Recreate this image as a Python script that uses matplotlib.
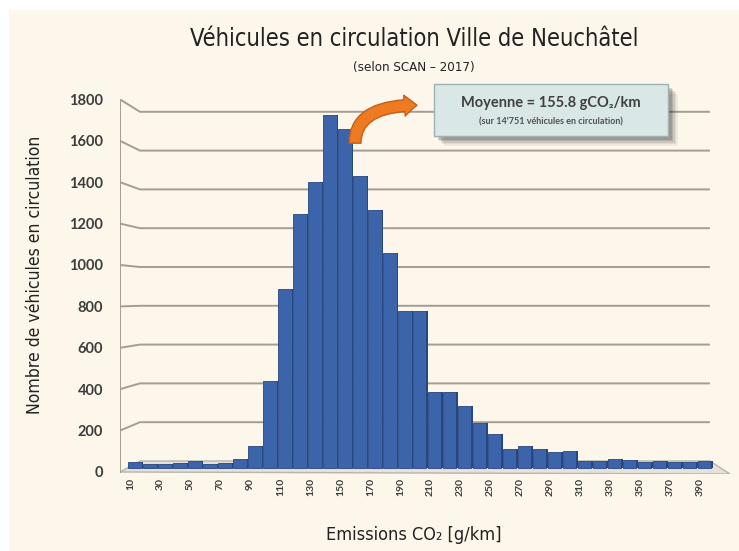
import numpy as np
import matplotlib.pyplot as plt
from matplotlib.patches import Rectangle, Polygon, FancyArrowPatch, ArrowStyle

# emission classes (g/km) and number of vehicles in each
classes = list(range(10, 400, 10))
vehicles = [30, 20, 20, 25, 35, 20, 25, 45, 110,
            430, 880, 1250, 1410, 1740, 1670, 1440, 1270, 1060, 775, 775,
            375, 375, 305, 220, 165, 95, 110, 95, 80, 85,
            35, 35, 45, 40, 30, 35, 30, 30, 35]
tick_classes = list(range(10, 400, 20))
y_ticks = list(range(0, 2000, 200))

title = "Véhicules en circulation Ville de Neuchâtel"
subtitle = "(selon SCAN – 2017)"
xlabel = "Emissions CO₂ [g/km]"
ylabel = "Nombre de véhicules en circulation"
box_line1 = "Moyenne = 155.8 gCO₂/km"
box_line2 = "(sur 14'751 véhicules en circulation)"

cream = "#fdf6ea"
blue = "#3c64aa"
blue_dark = "#27467e"
grid_col = "#a39d92"
txt_col = "#3d3d3d"
cond = ["DejaVu Sans"]
bold = ["Lato", "DejaVu Sans"]

W, H = 739, 551
fig = plt.figure(figsize=(W / 100, H / 100), dpi=100)
fig.patch.set_facecolor("white")
fig.patches.append(Rectangle((9 / W, 0), 1, 1 - 10 / H, transform=fig.transFigure,
                             facecolor=cream, edgecolor="none", zorder=-5))

# axes placed in pixels: x 120..730, y 99..474
ax = fig.add_axes([120 / W, 1 - 474 / H, 610 / W, 375 / H])
ax.set_zorder(1)
ax.set_facecolor("none")
ax.set_xlim(0, 406.7)
ax.set_ylim(-29.6, 1817.7)
for sp in ax.spines.values():
    sp.set_visible(False)


# perspective helpers (front axis and back wall, in data units)
def front_y(v):
    return (0.207 * v - 4) / 0.203


def back_y(v):
    return (7 + 0.194 * v) / 0.203


x_back0, x_back1 = 13.3, 393.3

# floor
ax.add_patch(Polygon([(0, front_y(0)), (406.7, front_y(0) - 10), (x_back1, back_y(0)),
                      (x_back0, back_y(0))], closed=True, facecolor="#e4e0da",
                     edgecolor="#b9b4ac", lw=1, zorder=1))

# gridlines on the back wall with slanted links to the front axis
for v in y_ticks[1:]:
    ax.plot([0, x_back0, x_back1], [front_y(v), back_y(v), back_y(v)],
            color=grid_col, lw=1.4, zorder=1, solid_capstyle="butt")
ax.plot([0, 0], [front_y(0), front_y(1800)], color=grid_col, lw=1.4, zorder=1)

# 3D-looking bars: side face + front face
bw = 8.7
ax.bar(np.array(classes) + bw / 2 + 0.6, vehicles, width=1.4, color=blue_dark, zorder=2)
ax.bar(classes, vehicles, width=bw, color=blue, edgecolor=blue_dark, linewidth=0.6, zorder=3)

ax.set_yticks([front_y(v) for v in y_ticks], [str(v) for v in y_ticks])
ax.set_xticks([c - 3 for c in tick_classes], [str(c) for c in tick_classes], rotation=90)
ax.tick_params(axis="y", length=0, pad=12, labelsize=10.5, labelcolor=txt_col)
ax.tick_params(axis="x", length=0, pad=3, labelsize=7.5, labelcolor=txt_col)
for lab in ax.get_yticklabels() + ax.get_xticklabels():
    lab.set_family(bold)
    lab.set_fontweight("bold")

# titles and axis labels
fig.text(414 / W, 1 - 39 / H, title, ha="center", va="center", fontsize=17,
         family=cond, fontstretch="condensed", color="#222222")
fig.text(414 / W, 1 - 68 / H, subtitle, ha="center", va="center", fontsize=9.5,
         family=cond, fontstretch="condensed", color="#222222")
fig.text(414 / W, 1 - 535 / H, xlabel, ha="center", va="center", fontsize=13,
         family=cond, fontstretch="condensed", color="#222222")
fig.text(35 / W, 1 - 275 / H, ylabel, ha="center", va="center", rotation=90,
         fontsize=12.6, family=cond, fontstretch="condensed", color="#222222")

# mean box with soft shadow
bx, by, bwid, bht = 434, 84, 234, 52
for i, a in enumerate([0.06, 0.08, 0.10, 0.13, 0.16]):
    d = 10 - i * 1.6
    fig.patches.append(Rectangle(((bx + d) / W, 1 - (by + bht + d) / H), bwid / W, bht / H,
                                 transform=fig.transFigure, facecolor="#202020",
                                 alpha=a, edgecolor="none", zorder=4))
fig.patches.append(Rectangle((bx / W, 1 - (by + bht) / H), bwid / W, bht / H,
                             transform=fig.transFigure, facecolor="#d9e8e6",
                             edgecolor="#9fb1b0", lw=1, zorder=5))
fig.text((bx + bwid / 2) / W, 1 - 103 / H, box_line1, ha="center", va="center",
         fontsize=10.5, fontweight="bold", family=bold, color="#404040", zorder=6)
fig.text((bx + bwid / 2) / W, 1 - 122 / H, box_line2, ha="center", va="center",
         fontsize=6.5, fontweight="bold", family=bold, color="#505050", zorder=6)

# orange bent arrow from the peak to the box
arrow = FancyArrowPatch((156.7, 1600), (198, 1787),
                        arrowstyle=ArrowStyle.Simple(head_length=9, head_width=15, tail_width=8.5),
                        connectionstyle="angle3,angleA=90,angleB=0",
                        mutation_scale=1, shrinkA=0, shrinkB=0,
                        facecolor="#ee7b22", edgecolor="#c45f14", lw=1,
                        clip_on=False, zorder=6)
ax.add_patch(arrow)

fig.savefig("out.png", dpi=100, facecolor=fig.get_facecolor())
